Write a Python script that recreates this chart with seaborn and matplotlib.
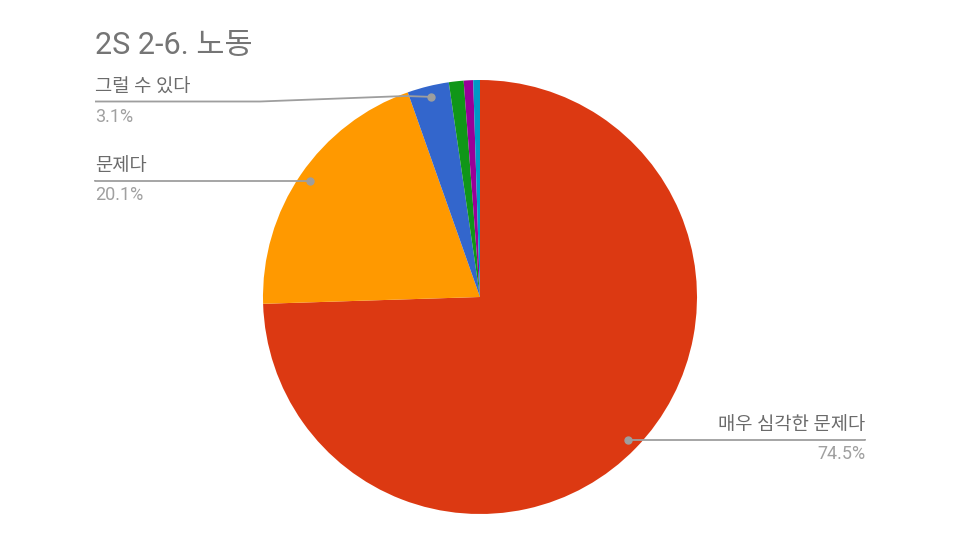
import numpy as np
import matplotlib
matplotlib.use("Agg")
import matplotlib.pyplot as plt
import seaborn as sns

# data
labels = ["매우 심각한 문제다", "문제다", "그럴 수 있다", "기타1", "기타2", "기타3"]
shares = [74.5, 20.1, 3.1, 1.1, 0.7, 0.5]
shown = [True, True, True, False, False, False]
colors = ["#DC3912", "#FF9900", "#3366CC", "#109618", "#990099", "#0099C6"]
title = "2S 2-6. 노동"

sns.set_theme(style="white")
plt.rcParams["font.family"] = ["Roboto", "Noto Sans CJK KR", "DejaVu Sans"]

W, H = 960, 540
fig = plt.figure(figsize=(9.6, 5.4), dpi=100)
ax = fig.add_axes([0, 0, 1, 1])

cx, cy, R = 480, H - 297, 217
wedges, _ = ax.pie(shares, colors=sns.color_palette(colors), startangle=90,
                   counterclock=False, center=(cx, cy), radius=R,
                   wedgeprops=dict(linewidth=0))
ax.set_xlim(0, W)
ax.set_ylim(0, H)
ax.set_aspect("auto")
ax.axis("off")

line_c = "#9e9e9e"
name_c = "#6b6b6b"
pct_c = "#a0a0a0"

# label layouts: line end x, line y (px from top), alignment, bend points
layout = {
    0: dict(x_end=865, y=439, ha="right"),
    1: dict(x_end=95, y=180, ha="left"),
    2: dict(x_end=95, y=101.5, ha="left", bend=[(405, 96), (260, 101.5)]),
}

for i, w in enumerate(wedges):
    if not shown[i]:
        continue
    mid = np.deg2rad((w.theta1 + w.theta2) / 2)
    dx, dy = cx + 0.95 * R * np.cos(mid), cy + 0.95 * R * np.sin(mid)
    lay = layout[i]
    ly = H - lay["y"]
    pts = [(dx, dy)]
    if "bend" in lay:
        pts += [(bx, H - by) for bx, by in lay["bend"]]
    else:
        pts.append((lay["x_end"], dy))
    pts.append((lay["x_end"], ly))
    xs, ys = zip(*pts)
    ax.plot(xs, ys, color=line_c, lw=1.3, solid_capstyle="butt")
    ax.plot(dx, dy, "o", color=line_c, ms=5)
    ax.text(lay["x_end"], ly + 5, labels[i], ha=lay["ha"], va="bottom",
            fontsize=13.5, color=name_c)
    ax.text(lay["x_end"], ly - 6, f"{shares[i]:.1f}%", ha=lay["ha"], va="top",
            fontsize=13, color=pct_c)

ax.text(95, H - 45, title, ha="left", va="center", fontsize=22, color="#757575")

fig.savefig("out.png", dpi=100, facecolor="white")
